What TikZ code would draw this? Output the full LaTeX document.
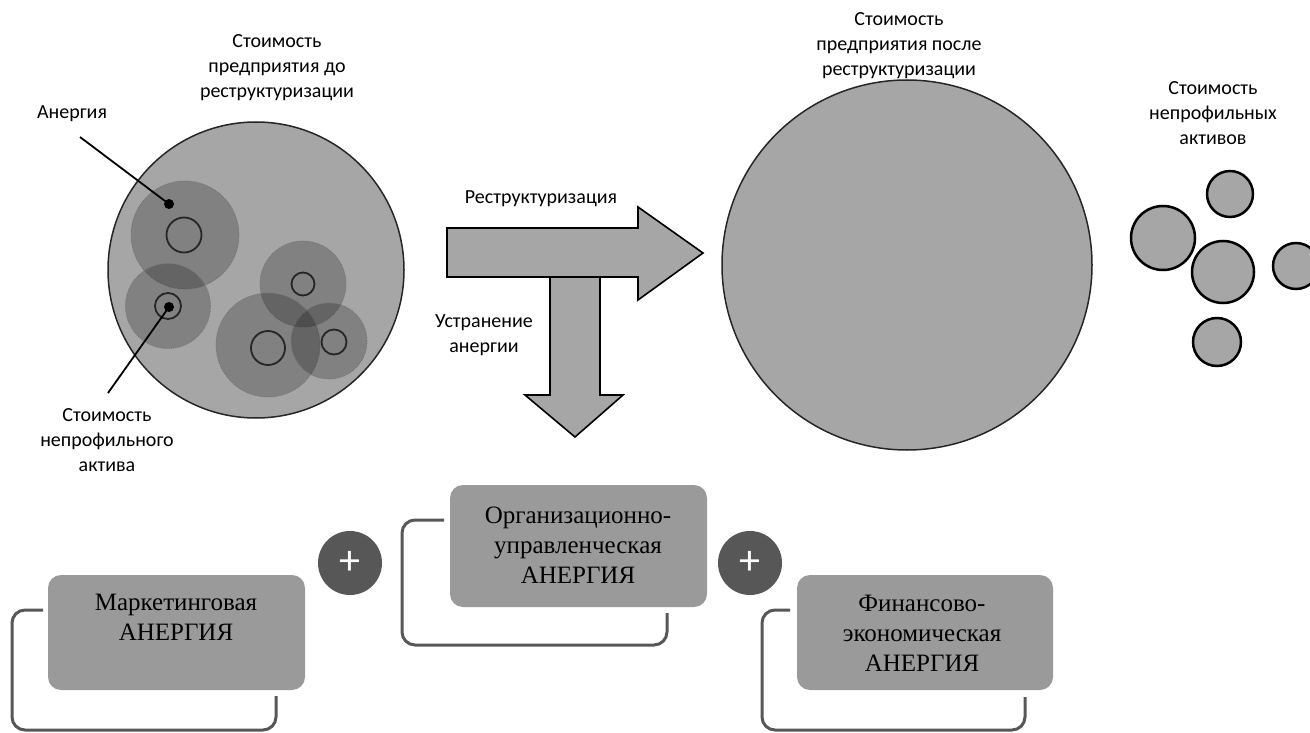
\documentclass[tikz,border=0pt]{standalone}
\usepackage{fontspec}
\setmainfont{Liberation Serif}
\newfontfamily\lbl{Carlito}
\usetikzlibrary{calc}
\definecolor{cfill}{HTML}{A6A6A6}
\definecolor{bfill}{HTML}{9A9A9A}
\definecolor{dk}{HTML}{575757}
\tikzset{
  lab/.style={font=\lbl\fontsize{20}{25}\selectfont, align=center, inner sep=0pt},
  boxtext/.style={font=\fontsize{25}{30}\selectfont, align=center, inner sep=0pt},
  bigc/.style={circle, inner sep=0pt, fill=cfill, draw=black!85, line width=1.5pt},
  halo/.style={circle, inner sep=0pt, fill=black, fill opacity=0.22, draw=black!55, densely dotted, line width=0.8pt},
  core/.style={circle, inner sep=0pt, draw=black!85, line width=1.8pt},
  dot/.style={circle, inner sep=0pt, fill=black, minimum size=10pt},
  asset/.style={circle, inner sep=0pt, fill=cfill, draw=black, line width=2.5pt},
  arr/.style={fill=cfill, draw=black, line width=1.6pt, line join=miter},
  abox/.style={rectangle, rounded corners=13pt, fill=bfill, inner sep=0pt},
  bracket/.style={draw=dk, line width=3pt, rounded corners=13pt},
  plus/.style={circle, inner sep=0pt, fill=dk, minimum size=64pt, text=white, font=\lbl\fontsize{42}{42}\selectfont},
  leader/.style={line width=1.8pt}
}
\begin{document}
\begin{tikzpicture}[x=1pt,y=-1pt]
\useasboundingbox (0,0) rectangle (1310,733);
% left big circle
\node[bigc, minimum size=296pt] (before) at (256,270) {};
\node[halo, minimum size=108pt] (h1) at (185,235) {};
\node[halo, minimum size=85pt] (h2) at (168,306) {};
\node[halo, minimum size=86pt] (h3) at (303,284) {};
\node[halo, minimum size=104pt] (h4) at (268,345) {};
\node[halo, minimum size=76pt] (h5) at (329,341) {};
\node[core, minimum size=35pt] (c1) at (184,235) {};
\node[core, minimum size=26pt] (c2) at (168,306) {};
\node[core, minimum size=23pt] (c3) at (303,284) {};
\node[core, minimum size=34pt] (c4) at (268,348) {};
\node[core, minimum size=25pt] (c5) at (334,342) {};
\node[dot] (d1) at (169,204) {};
\node[dot] (d2) at (169,307) {};
% labels left
\node[lab] (lbefore) at (277,68) {Стоимость\\предприятия до\\реструктуризации};
\node[lab] (lanergy) at (72,114) {Анергия};
\node[lab] (lasset) at (107,440) {Стоимость\\непрофильного\\актива};
\coordinate (e1) at (80,137);
\coordinate (e2) at (108,393);
\draw[leader] (e1) -- (d1.center);
\draw[leader] (d2.center) -- (e2);
% arrows
\draw[arr] (447,228) -- (638,228) -- (638,207) -- (703,253) -- (638,300) -- (638,277) -- (447,277) -- cycle;
\draw[arr] (550,277) -- (600,277) -- (600,395) -- (623,395) -- (575,437) -- (525,395) -- (550,395) -- cycle;
\node[lab] (lrestr) at (541,199) {Реструктуризация};
\node[lab] (lelim) at (484,335) {Устранение\\анергии};
% right big circle
\node[bigc, minimum size=370pt] (after) at (907,265) {};
\node[lab] (lafter) at (899,46) {Стоимость\\предприятия после\\реструктуризации};
% non-core assets
\node[asset, minimum size=46pt] (a1) at (1230,194) {};
\node[asset, minimum size=64pt] (a2) at (1163,238) {};
\node[asset, minimum size=62pt] (a3) at (1223,272) {};
\node[asset, minimum size=46pt] (a4) at (1296,266) {};
\node[asset, minimum size=48pt] (a5) at (1217,342) {};
\node[lab] (lassets) at (1213,113) {Стоимость\\непрофильных\\активов};
% bottom boxes
\draw[bracket] (43,610) -- (12,610) -- (12,730) -- (276,730) -- (276,696);
\node[abox, minimum width=257pt, minimum height=115pt] (b1) at (176.5,632.5) {};
\node[boxtext] (t1) at (176,617) {Маркетинговая\\АНЕРГИЯ};
\draw[bracket] (444,520) -- (402,520) -- (402,645) -- (667,645) -- (667,613);
\node[abox, minimum width=257pt, minimum height=122pt] (b2) at (578.5,546) {};
\node[boxtext] (t2) at (578,545) {Организационно-\\управленческая\\АНЕРГИЯ};
\draw[bracket] (790,610) -- (762,610) -- (762,730) -- (1025,730) -- (1025,697);
\node[abox, minimum width=256pt, minimum height=115pt] (b3) at (925,632.5) {};
\node[boxtext] (t3) at (922,633) {Финансово-\\экономическая\\АНЕРГИЯ};
\node[plus] (p1) at (350,563) {+};
\node[plus] (p2) at (750,563) {+};
\end{tikzpicture}
\end{document}
